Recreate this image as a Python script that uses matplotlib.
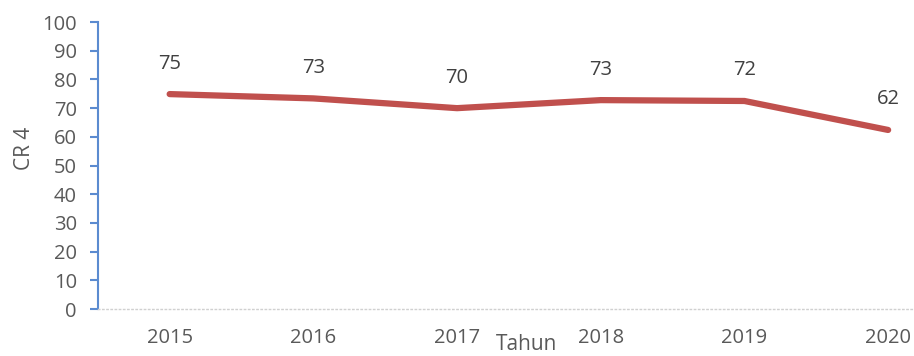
"""Grafik garis CR 4 per tahun."""

import matplotlib.pyplot as plt

# ── Data ──────────────────────────────────────────────────────────────────────

TAHUN = ["2015", "2016", "2017", "2018", "2019", "2020"]
NILAI_CR4 = [74.9, 73.4, 70.0, 72.8, 72.5, 62.4]
LABEL_NILAI = ["75", "73", "70", "73", "72", "62"]
Y_TICKS = [0, 10, 20, 30, 40, 50, 60, 70, 80, 90, 100]

WARNA_GARIS = "#C0504D"
WARNA_SUMBU = "#5B8BD0"
WARNA_TEKS = "#595959"

plt.rcParams["font.family"] = ["Open Sans", "DejaVu Sans"]

fig = plt.figure(figsize=(9.14, 3.56), dpi=100)
ax = fig.add_axes([0.107, 0.132, 0.893, 0.806])

posisi = list(range(len(TAHUN)))
ax.plot(posisi, NILAI_CR4, color=WARNA_GARIS, linewidth=4.5, solid_capstyle="round")

for x, y, teks in zip(posisi, NILAI_CR4, LABEL_NILAI):
    ax.annotate(teks, (x, y), xytext=(0, 22), textcoords="offset points",
                ha="center", va="center", fontsize=14.5, color="#404040")

ax.set_xlim(-0.5, 5.18)
ax.set_ylim(0, 100)
ax.set_yticks(Y_TICKS)
ax.set_xticks(posisi)
ax.set_xticklabels(TAHUN)

ax.tick_params(axis="y", colors=WARNA_SUMBU, length=6, width=1.5, pad=9,
               labelsize=14.5, labelcolor=WARNA_TEKS)
ax.tick_params(axis="x", length=0, pad=14, labelsize=14.5, labelcolor=WARNA_TEKS)

for sisi in ("top", "right"):
    ax.spines[sisi].set_visible(False)
ax.spines["left"].set_color(WARNA_SUMBU)
ax.spines["left"].set_linewidth(1.5)
ax.spines["bottom"].set_color("#D0D0D0")
ax.spines["bottom"].set_linestyle((0, (1, 2)))
ax.spines["bottom"].set_linewidth(1.0)

ax.set_ylabel("CR 4", fontsize=15, color=WARNA_TEKS)
ax.yaxis.set_label_coords(-0.077, 0.56)

# "Tahun" menempel di tepi bawah, seperti pada gambar asli
fig.text(527 / 914, 0.004, "Tahun", ha="center", va="bottom", fontsize=15, color=WARNA_TEKS)

fig.savefig("out.png", dpi=100)
